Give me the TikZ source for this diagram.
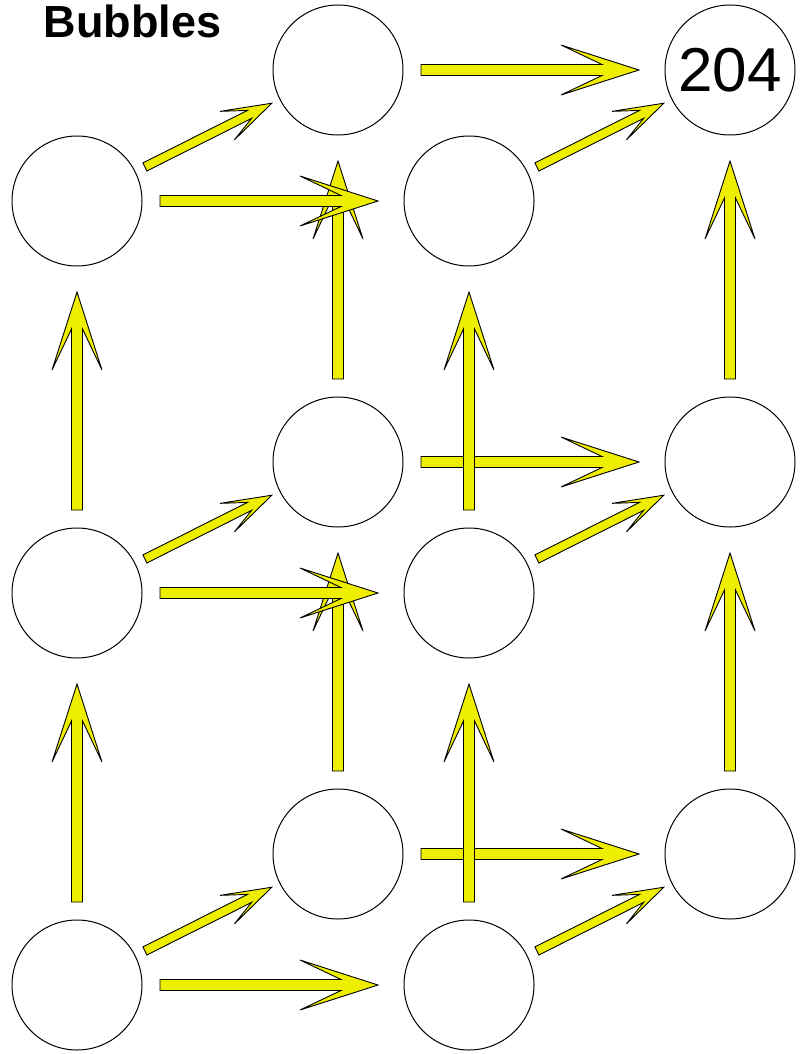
\documentclass[tikz,border=0pt]{standalone}
\usepackage{fontspec}
\setmainfont{Liberation Sans}
\usetikzlibrary{calc}
\definecolor{arrowyellow}{RGB}{238,238,0}
\tikzset{
  bubble/.style={circle, draw=black, line width=1pt, fill=white, minimum size=130pt, inner sep=0pt},
  barrowsty/.style={draw=black, line width=0.9pt, fill=arrowyellow, line join=miter},
}
% #1 from, #2 to, #3 start dist, #4 end dist, #5 shaft half width, #6 junction, #7 barb back, #8 head half width
\newcommand\blockarrow[8]{%
  \draw[barrowsty] let \p1=(#1.center), \p2=(#2.center),
      \n1={atan2(\y2-\y1,\x2-\x1)}, \n2={veclen(\x2-\x1,\y2-\y1)} in
    ($(\p1)+(\n1:{#3*1pt})+(\n1+90:{#5*1pt})$)
    -- ($(\p1)+(\n1:{(\n2-#4-#6)*1pt})+(\n1+90:{#5*1pt})$)
    -- ($(\p1)+(\n1:{(\n2-#4-#7)*1pt})+(\n1+90:{#8*1pt})$)
    -- ($(\p1)+(\n1:{(\n2-#4)*1pt})$)
    -- ($(\p1)+(\n1:{(\n2-#4-#7)*1pt})+(\n1-90:{#8*1pt})$)
    -- ($(\p1)+(\n1:{(\n2-#4-#6)*1pt})+(\n1-90:{#5*1pt})$)
    -- ($(\p1)+(\n1:{#3*1pt})+(\n1-90:{#5*1pt})$)
    -- cycle;}
\newcommand\sarrow[2]{\blockarrow{#1}{#2}{83}{91}{5.5}{37}{78}{25}}
\newcommand\darrow[2]{\blockarrow{#1}{#2}{76}{74}{4.5}{25}{50}{16}}
\begin{document}
\begin{tikzpicture}[x=1pt,y=-1pt]
\useasboundingbox (0,0) rectangle (802,1054);
\node[anchor=base west, font=\fontsize{45}{45}\selectfont\bfseries] (title) at (40,38) {Bubbles};
% front grid
\node[bubble] (f11) at (77,201) {};
\node[bubble] (f12) at (469,201) {};
\node[bubble] (f21) at (77,593) {};
\node[bubble] (f22) at (469,593) {};
\node[bubble] (f31) at (77,985) {};
\node[bubble] (f32) at (469,985) {};
% back grid
\node[bubble, font=\fontsize{62}{62}\selectfont] (b12) at (730,70) {204};
\node[bubble] (b11) at (338,70) {};
\node[bubble] (b21) at (338,462) {};
\node[bubble] (b22) at (730,462) {};
\node[bubble] (b31) at (338,854) {};
\node[bubble] (b32) at (730,854) {};
% diagonal arrows
\darrow{f11}{b11}
\darrow{f12}{b12}
\darrow{f21}{b21}
\darrow{f22}{b22}
\darrow{f31}{b31}
\darrow{f32}{b32}
% back horizontal arrows
\sarrow{b11}{b12}
\sarrow{b21}{b22}
\sarrow{b31}{b32}
% vertical arrows
\sarrow{f31}{f21}
\sarrow{f21}{f11}
\sarrow{f32}{f22}
\sarrow{f22}{f12}
\sarrow{b31}{b21}
\sarrow{b21}{b11}
\sarrow{b32}{b22}
\sarrow{b22}{b12}
% front horizontal arrows
\sarrow{f11}{f12}
\sarrow{f21}{f22}
\sarrow{f31}{f32}
\end{tikzpicture}
\end{document}
